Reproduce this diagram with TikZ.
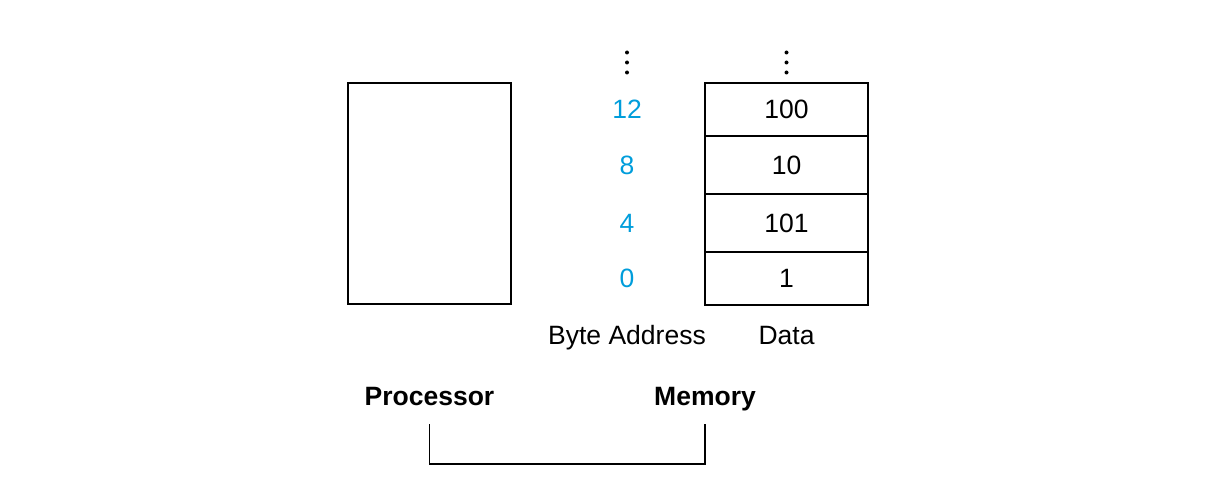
\documentclass[tikz,border=0pt]{standalone}
\usepackage{fontspec}
\setmainfont{Liberation Sans}
\usetikzlibrary{positioning}
\definecolor{addrblue}{RGB}{0,157,219}
\tikzstyle{Bus} = [
    line width = 1.4pt,
    line cap = rect
]

\begin{document}
\begin{tikzpicture}[
x = 1pt, y = -1pt,
font = \fontsize{26.5}{30}\selectfont,
cell/.style={
    rectangle,
    draw,
    line width = 1.4pt,
    minimum width = 163pt,
    minimum height = 58pt,
    inner sep = 0pt,
    outer sep = 0pt
    },
addr/.style={
    text = addrblue,
    inner sep = 0pt
    },
caption/.style={
    inner sep = 0pt,
    text height = 19pt,
    text depth = 5pt
    }
]
\useasboundingbox (0,0) rectangle (1220,486);

\node [cell, minimum height = 221pt] (proc) at (429.5,193.5) {};

\node [cell, minimum height = 53pt] (m12) at (786.5,109.5) {100};
\node [cell, below = 0pt of m12] (m8) {10};
\node [cell, below = 0pt of m8] (m4) {101};
\node [cell, minimum height = 53pt, below = 0pt of m4] (m0) {1};

\coordinate (addrcol) at (627,0);
\node [addr] (a12) at (addrcol |- m12) {12};
\node [addr] (a8) at (addrcol |- m8) {8};
\node [addr] (a4) at (addrcol |- m4) {4};
\node [addr] (a0) at (addrcol |- m0) {0};

\foreach \dy in {52.5, 62.5, 72.5} {
    \fill (addrcol |- 0,\dy) circle (2pt);
    \fill (m12 |- 0,\dy) circle (2pt);
}

\node [caption, below = 20pt of m0] (data) {Data};
\node [caption] (byteaddr) at (addrcol |- data) {Byte Address};

\node [caption, below = 82pt of proc] (proclbl) {\bfseries Processor};
\node [caption] (memlbl) at (m0.west |- proclbl) {\bfseries Memory};

\coordinate [below = 14pt of proclbl] (pbus);
\coordinate [below = 14pt of memlbl] (mbus);
\draw [Bus] (pbus) -- ++(0,39.5) -| (mbus);

\end{tikzpicture}
\end{document}
